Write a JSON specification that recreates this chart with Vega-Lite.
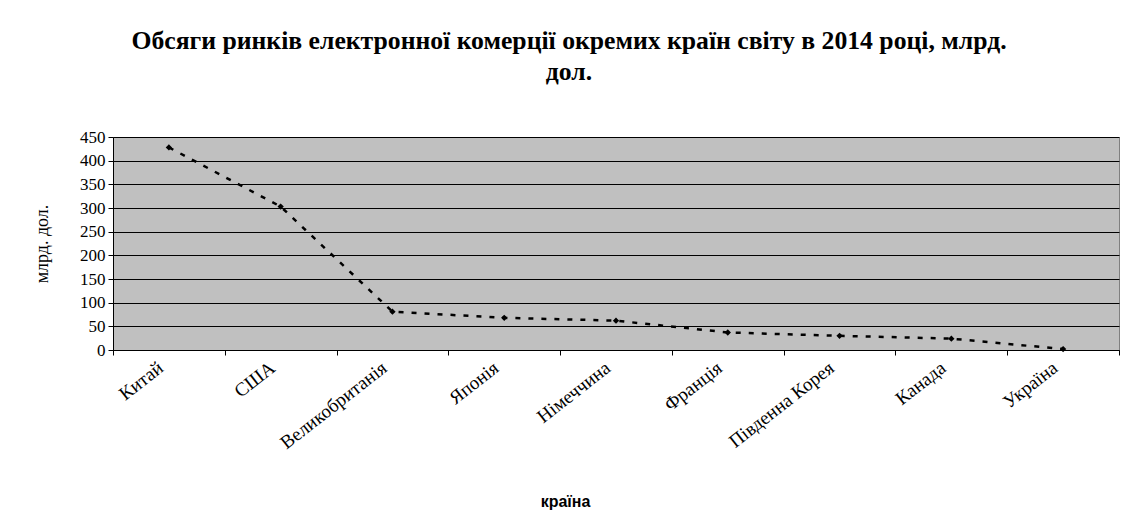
{
  "$schema": "https://vega.github.io/schema/vega-lite/v6.json",
  "autosize": {"type": "none"},
  "width": 1006,
  "height": 213,
  "padding": {"left": 113, "top": 137, "right": 8, "bottom": 181},
  "background": "white",
  "title": {
    "text": ["Обсяги ринків електронної комерції окремих країн світу в 2014 році, млрд.", "дол."],
    "font": "Liberation Serif",
    "fontSize": 25.7,
    "fontWeight": "bold",
    "color": "black",
    "anchor": "middle",
    "dx": -47,
    "offset": 42,
    "lineHeight": 31
  },
  "data": {
    "values": [
      {"country": "Китай", "value": 428},
      {"country": "США", "value": 303},
      {"country": "Великобританія", "value": 81},
      {"country": "Японія", "value": 68},
      {"country": "Німеччина", "value": 62},
      {"country": "Франція", "value": 37},
      {"country": "Південна Корея", "value": 30},
      {"country": "Канада", "value": 24},
      {"country": "Україна", "value": 2}
    ]
  },
  "mark": {
    "type": "line",
    "color": "black",
    "strokeWidth": 2.5,
    "strokeDash": [5, 8],
    "point": {"shape": "diamond", "filled": true, "color": "black", "size": 40}
  },
  "encoding": {
    "x": {
      "field": "country",
      "type": "nominal",
      "sort": null,
      "scale": {"type": "band", "paddingInner": 0, "paddingOuter": 0},
      "axis": {
        "title": "країна",
        "titleFont": "Liberation Sans",
        "titleFontSize": 16,
        "titleFontWeight": "bold",
        "titleColor": "black",
        "titleX": 452,
        "titleY": 143,
        "labelAngle": -38,
        "labelFont": "Liberation Serif",
        "labelFontSize": 19,
        "labelColor": "black",
        "labelOffset": -14,
        "tickBand": "extent",
        "tickColor": "black",
        "tickSize": 5,
        "domainColor": "black",
        "labelPadding": 3,
        "grid": false
      }
    },
    "y": {
      "field": "value",
      "type": "quantitative",
      "scale": {"domain": [0, 450], "nice": false},
      "axis": {
        "title": "млрд. дол.",
        "titleFont": "Liberation Serif",
        "titleFontSize": 18,
        "titleFontWeight": "normal",
        "titleColor": "black",
        "titlePadding": 28,
        "values": [0, 50, 100, 150, 200, 250, 300, 350, 400, 450],
        "labelFont": "Liberation Serif",
        "labelFontSize": 17,
        "labelColor": "black",
        "tickColor": "black",
        "tickSize": 5,
        "domainColor": "black",
        "gridColor": "black",
        "gridOpacity": 1,
        "gridWidth": 1,
        "labelPadding": 3
      }
    }
  },
  "config": {
    "view": {"fill": "#c0c0c0", "stroke": "#808080", "strokeWidth": 1}
  }
}
